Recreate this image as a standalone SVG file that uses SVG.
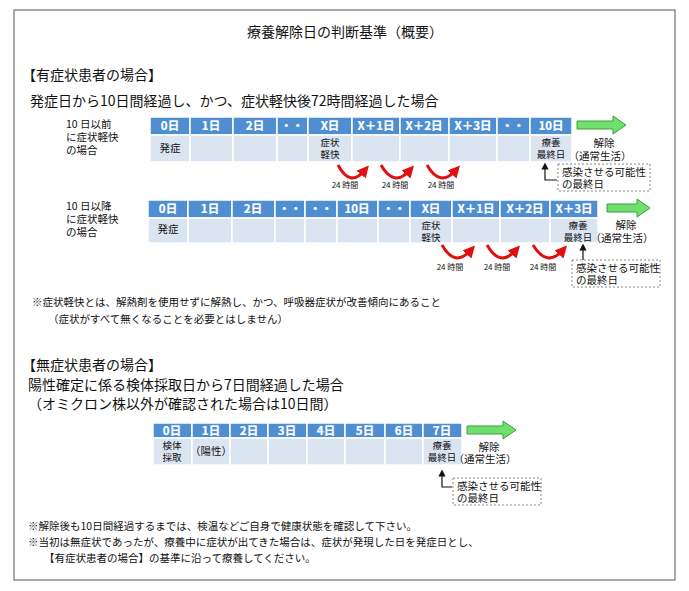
<svg xmlns="http://www.w3.org/2000/svg" width="689" height="591" viewBox="0 0 689 591">
<style>
text{font-family:"Noto Sans CJK JP","Liberation Sans",sans-serif;fill:#111}
.t{font-size:14px}.m{font-size:13px}.s{font-size:10.5px}.xs{font-size:8px}.cs{font-size:9.5px;text-anchor:middle}
.h{fill:#4f8fd1;stroke:#fff;stroke-width:1.5}.b{fill:#dbe5f1;stroke:#fff;stroke-width:1.5}
.hl{font-size:11.5px;fill:#fff;text-anchor:middle;font-weight:bold;stroke:#fff;stroke-width:0.2}
.c{text-anchor:middle}
.red{fill:none;stroke:#e01010;stroke-width:3;marker-end:url(#ra)}
.blk{fill:none;stroke:#111;stroke-width:1.2;marker-end:url(#ba)}
.dash{fill:#fff;stroke:#888;stroke-dasharray:2 2}
.g{fill:#6fe06f;stroke:#3aa03a;stroke-width:1}
</style>
<defs>
<marker id="ra" markerWidth="4" markerHeight="4" refX="2" refY="2" orient="auto"><path d="M0,0 L4,2 L0,4z" fill="#e01010"/></marker>
<marker id="ba" markerWidth="6" markerHeight="6" refX="3" refY="3" orient="auto"><path d="M0,0 L6,3 L0,6z" fill="#111"/></marker>
</defs>
<rect x="14" y="10" width="661" height="570" fill="#fff" stroke="#555"/>
<text x="345" y="37" class="t c">療養解除日の判断基準（概要）</text>
<text x="22" y="80" class="t">【有症状患者の場合】</text>
<text x="30" y="106" class="t">発症日から10日間経過し、かつ、症状軽快後72時間経過した場合</text>

<g id="row1">
<text x="66" y="128" class="s">10 日以前</text><text x="66" y="141" class="s">に症状軽快</text><text x="66" y="154" class="s">の場合</text>
<g>
<rect class="h" x="150" y="117" width="40" height="18"/><rect class="b" x="150" y="135" width="40" height="27"/>
<rect class="h" x="190" y="117" width="43" height="18"/><rect class="b" x="190" y="135" width="43" height="27"/>
<rect class="h" x="233" y="117" width="44" height="18"/><rect class="b" x="233" y="135" width="44" height="27"/>
<rect class="h" x="277" y="117" width="31" height="18"/><rect class="b" x="277" y="135" width="31" height="27"/>
<rect class="h" x="308" y="117" width="44" height="18"/><rect class="b" x="308" y="135" width="44" height="27"/>
<rect class="h" x="352" y="117" width="48" height="18"/><rect class="b" x="352" y="135" width="48" height="27"/>
<rect class="h" x="400" y="117" width="49" height="18"/><rect class="b" x="400" y="135" width="49" height="27"/>
<rect class="h" x="449" y="117" width="48" height="18"/><rect class="b" x="449" y="135" width="48" height="27"/>
<rect class="h" x="497" y="117" width="33" height="18"/><rect class="b" x="497" y="135" width="33" height="27"/>
<rect class="h" x="530" y="117" width="42" height="18"/><rect class="b" x="530" y="135" width="42" height="27"/>
</g>
<text class="hl" x="170" y="130">0日</text><text class="hl" x="211" y="130">1日</text><text class="hl" x="255" y="130">2日</text><text class="hl" x="292" y="130">・・</text><text class="hl" x="330" y="130">X日</text><text class="hl" x="376" y="130">X＋1日</text><text class="hl" x="424" y="130">X＋2日</text><text class="hl" x="473" y="130">X＋3日</text><text class="hl" x="513" y="130">・・</text><text class="hl" x="551" y="130">10日</text>
<text x="170" y="152" class="s c">発症</text>
<text x="330" y="146" class="cs">症状</text><text x="330" y="158" class="cs">軽快</text>
<text x="551" y="146" class="cs">療養</text><text x="551" y="158" class="cs">最終日</text>
<polygon class="g" points="577,121 613,121 613,116 626,125 613,134 613,129 577,129"/>
<text x="604" y="147" class="s c">解除</text><text x="600" y="160" class="s c">（通常生活）</text>
</g>

<g id="connectors">
<path class="red" d="M338,165 Q350,188 365,170"/><path class="red" d="M381,165 Q394,188 410,170"/><path class="red" d="M427,165 Q440,188 456,170"/>
<text x="345" y="188" class="xs c">24 時間</text><text x="395" y="188" class="xs c">24 時間</text><text x="441" y="188" class="xs c">24 時間</text>
<path class="red" d="M442,245 Q455,268 471,250"/><path class="red" d="M487,245 Q500,268 516,250"/><path class="red" d="M533,245 Q547,268 563,250"/>
<text x="450" y="270" class="xs c">24 時間</text><text x="497" y="270" class="xs c">24 時間</text><text x="543" y="270" class="xs c">24 時間</text>
<path class="blk" d="M557,180 L545,180 L545,166"/>
<path class="blk" d="M583,260 L583,247"/>
<path class="blk" d="M452,487 L442,487 L442,473"/>
</g>

<g id="note1"><rect class="dash" x="558" y="164" width="92" height="27"/><text x="562" y="176" class="s">感染させる可能性</text><text x="562" y="188" class="s">の最終日</text></g>

<g id="row2">
<text x="66" y="210" class="s">10 日以降</text><text x="66" y="223" class="s">に症状軽快</text><text x="66" y="236" class="s">の場合</text>
<rect class="h" x="148" y="200" width="40" height="18"/><rect class="b" x="148" y="218" width="40" height="25"/>
<rect class="h" x="188" y="200" width="44" height="18"/><rect class="b" x="188" y="218" width="44" height="25"/>
<rect class="h" x="232" y="200" width="43" height="18"/><rect class="b" x="232" y="218" width="43" height="25"/>
<rect class="h" x="275" y="200" width="30" height="18"/><rect class="b" x="275" y="218" width="30" height="25"/>
<rect class="h" x="305" y="200" width="32" height="18"/><rect class="b" x="305" y="218" width="32" height="25"/>
<rect class="h" x="337" y="200" width="41" height="18"/><rect class="b" x="337" y="218" width="41" height="25"/>
<rect class="h" x="378" y="200" width="32" height="18"/><rect class="b" x="378" y="218" width="32" height="25"/>
<rect class="h" x="410" y="200" width="42" height="18"/><rect class="b" x="410" y="218" width="42" height="25"/>
<rect class="h" x="452" y="200" width="48" height="18"/><rect class="b" x="452" y="218" width="48" height="25"/>
<rect class="h" x="500" y="200" width="50" height="18"/><rect class="b" x="500" y="218" width="50" height="25"/>
<rect class="h" x="550" y="200" width="48" height="18"/><rect class="b" x="550" y="218" width="48" height="25"/>
<text class="hl" x="168" y="213">0日</text><text class="hl" x="210" y="213">1日</text><text class="hl" x="253" y="213">2日</text><text class="hl" x="290" y="213">・・</text><text class="hl" x="321" y="213">・・</text><text class="hl" x="357" y="213">10日</text><text class="hl" x="394" y="213">・・</text><text class="hl" x="431" y="213">X日</text><text class="hl" x="476" y="213">X＋1日</text><text class="hl" x="525" y="213">X＋2日</text><text class="hl" x="574" y="213">X＋3日</text>
<text x="168" y="233" class="s c">発症</text>
<text x="431" y="229" class="cs">症状</text><text x="431" y="241" class="cs">軽快</text>
<text x="578" y="229" class="cs">療養</text><text x="578" y="241" class="cs">最終日</text>
<polygon class="g" points="607,204 637,204 637,199 650,208 637,217 637,212 607,212"/>
<text x="626" y="229" class="s c">解除</text><text x="622" y="242" class="s c">（通常生活）</text>
</g>
<g id="note2"><rect class="dash" x="572" y="260" width="88" height="27"/><text x="576" y="272" class="s">感染させる可能性</text><text x="576" y="284" class="s">の最終日</text></g>

<text x="32" y="306" class="s">※症状軽快とは、解熱剤を使用せずに解熱し、かつ、呼吸器症状が改善傾向にあること</text>
<text x="48" y="323" class="s">（症状がすべて無くなることを必要とはしません）</text>

<text x="22" y="370" class="t">【無症状患者の場合】</text>
<text x="28" y="390" class="t">陽性確定に係る検体採取日から7日間経過した場合</text>
<text x="28" y="409" class="t">（オミクロン株以外が確認された場合は10日間）</text>

<g id="row3">
<rect class="h" x="153" y="423" width="39" height="15"/><rect class="b" x="153" y="438" width="39" height="27"/>
<rect class="h" x="192" y="423" width="38" height="15"/><rect class="b" x="192" y="438" width="38" height="27"/>
<rect class="h" x="230" y="423" width="38" height="15"/><rect class="b" x="230" y="438" width="38" height="27"/>
<rect class="h" x="268" y="423" width="39" height="15"/><rect class="b" x="268" y="438" width="39" height="27"/>
<rect class="h" x="307" y="423" width="38" height="15"/><rect class="b" x="307" y="438" width="38" height="27"/>
<rect class="h" x="345" y="423" width="40" height="15"/><rect class="b" x="345" y="438" width="40" height="27"/>
<rect class="h" x="385" y="423" width="38" height="15"/><rect class="b" x="385" y="438" width="38" height="27"/>
<rect class="h" x="423" y="423" width="39" height="15"/><rect class="b" x="423" y="438" width="39" height="27"/>
<text class="hl" x="172" y="435">0日</text><text class="hl" x="211" y="435">1日</text><text class="hl" x="249" y="435">2日</text><text class="hl" x="287" y="435">3日</text><text class="hl" x="326" y="435">4日</text><text class="hl" x="365" y="435">5日</text><text class="hl" x="404" y="435">6日</text><text class="hl" x="442" y="435">7日</text>
<text x="172" y="449" class="cs">検体</text><text x="172" y="461" class="cs">採取</text>
<text x="211" y="455" class="s c">（陽性）</text>
<text x="442" y="449" class="cs">療養</text><text x="442" y="461" class="cs">最終日</text>
<polygon class="g" points="467,426 503,426 503,421 516,430 503,439 503,434 467,434"/>
<text x="489" y="451" class="s c">解除</text><text x="485" y="463" class="s c">（通常生活）</text>
</g>
<g id="note3"><rect class="dash" x="453" y="478" width="88" height="27"/><text x="457" y="490" class="s">感染させる可能性</text><text x="457" y="502" class="s">の最終日</text></g>

<text x="28" y="530" class="s">※解除後も10日間経過するまでは、検温などご自身で健康状態を確認して下さい。</text>
<text x="28" y="546" class="s">※当初は無症状であったが、療養中に症状が出てきた場合は、症状が発現した日を発症日とし、</text>
<text x="44" y="562" class="s">【有症状患者の場合】の基準に沿って療養してください。</text>
</svg>
